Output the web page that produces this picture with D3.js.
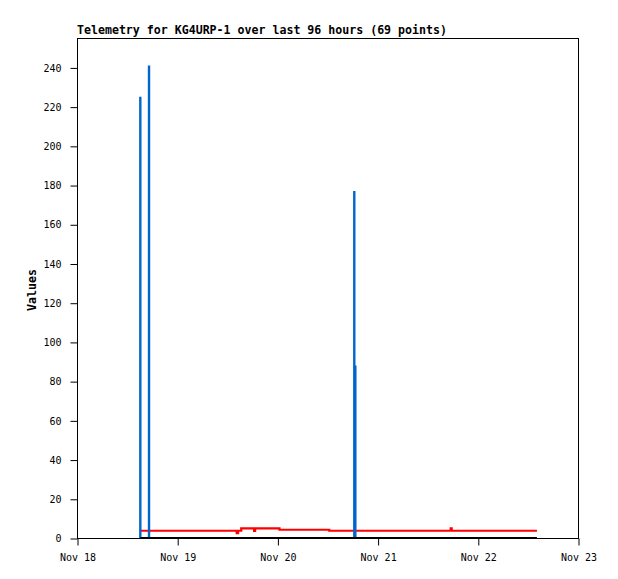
<!DOCTYPE html>
<html>
<head>
<meta charset="utf-8">
<script src="https://cdn.jsdelivr.net/npm/d3@7"></script>
<style>
  body { margin: 0; background: #fff; }
  text { font-family: "DejaVu Sans Mono", monospace; }
</style>
</head>
<body>
<div id="chart"></div>
<script>
// telemetry samples (UTC), one value per series per timestamp
const times = [
  '2023-11-18T15:10', '2023-11-18T15:25', '2023-11-18T16:50', '2023-11-18T17:15',
  '2023-11-18T17:30', '2023-11-19T06:00', '2023-11-19T14:05', '2023-11-19T14:15',
  '2023-11-19T14:35', '2023-11-19T15:05', '2023-11-19T15:20', '2023-11-19T18:15',
  '2023-11-19T18:25', '2023-11-19T18:40', '2023-11-20T00:15', '2023-11-20T00:30',
  '2023-11-20T12:10', '2023-11-20T12:25', '2023-11-20T18:00', '2023-11-20T18:25',
  '2023-11-20T18:40', '2023-11-20T18:55', '2023-11-21T17:20', '2023-11-21T17:30',
  '2023-11-21T17:45', '2023-11-22T14:10'
];
const blueValues = [225, 0, 0, 241, 0, 0, 0, 0, 0, 0, 0, 0, 0, 0, 0, 0, 0, 0, 0, 177, 88, 0, 0, 0, 0, 0];
const redValues = [3.7, 3.7, 3.7, 3.7, 3.7, 3.7, 3.7, 2.5, 3.7, 3.7, 4.9, 4.9, 3.6, 4.9, 4.9, 4.2,
                   4.2, 3.7, 3.7, 3.7, 3.7, 3.7, 3.7, 4.9, 3.7, 3.7];
const blackValues = [0, 0, 0, 0, 0, 0, 0, 0, 0, 0, 0, 0, 0, 0, 0, 0, 0, 0, 0, 0, 0, 0, 0, 0, 0, 0];
const yTicks = [0, 20, 40, 60, 80, 100, 120, 140, 160, 180, 200, 220, 240];
const xTickDates = ['2023-11-18', '2023-11-19', '2023-11-20', '2023-11-21', '2023-11-22', '2023-11-23'];
const title = 'Telemetry for KG4URP-1 over last 96 hours (69 points)';

const width = 618, height = 579;
const margin = { left: 77, right: 40, top: 38, bottom: 41 };

const parse = d3.utcParse('%Y-%m-%dT%H:%M');
const parseDay = d3.utcParse('%Y-%m-%d');
const dates = times.map(parse);
const tickDates = xTickDates.map(parseDay);

const x = d3.scaleUtc()
  .domain([tickDates[0], tickDates[tickDates.length - 1]])
  .range([margin.left, width - margin.right]);
const y = d3.scaleLinear()
  .domain([0, 255])
  .range([height - margin.bottom, margin.top]);

const svg = d3.select('#chart').append('svg')
  .attr('width', width)
  .attr('height', height);

// frame
svg.append('rect')
  .attr('x', margin.left + 0.5)
  .attr('y', margin.top + 0.5)
  .attr('width', width - margin.left - margin.right)
  .attr('height', height - margin.top - margin.bottom)
  .attr('fill', 'none')
  .attr('stroke', '#000')
  .attr('stroke-width', 1);

const fmt = d3.utcFormat('%b %d');
const xAxis = svg.append('g')
  .attr('transform', 'translate(0.5,' + (height - margin.bottom + 0.5) + ')')
  .call(d3.axisBottom(x).tickValues(tickDates).tickSize(7).tickPadding(8)
    .tickFormat(d => fmt(d)));
xAxis.select('.domain').remove();
xAxis.selectAll('text').style('font-size', '10px').attr('fill', '#000');
xAxis.selectAll('line').attr('stroke', '#000');

const yAxis = svg.append('g')
  .attr('transform', 'translate(' + (margin.left + 0.5) + ',0.5)')
  .call(d3.axisLeft(y).tickValues(yTicks).tickSize(7).tickPadding(9));
yAxis.select('.domain').remove();
yAxis.selectAll('text').style('font-size', '10px').attr('fill', '#000');
yAxis.selectAll('line').attr('stroke', '#000');

// title
svg.append('text')
  .attr('x', margin.left)
  .attr('y', 34)
  .style('font-size', '11.6px')
  .style('font-weight', 'bold')
  .text(title);

// y label
svg.append('text')
  .attr('transform', 'translate(36,290) rotate(-90)')
  .attr('text-anchor', 'middle')
  .style('font-size', '11.6px')
  .style('font-weight', 'bold')
  .text('Values');

function stepSeries(values, color) {
  const line = d3.line()
    .x((d, i) => x(dates[i]))
    .y(d => y(d))
    .curve(d3.curveStepAfter);
  svg.append('path')
    .datum(values)
    .attr('d', line)
    .attr('fill', 'none')
    .attr('stroke', color)
    .attr('stroke-width', 2.2);
}

// impulses: a vertical bar from 0 to each value
function impulses(values, color) {
  svg.append('g').selectAll('line')
    .data(values.map((v, i) => ({ t: dates[i], v })).filter(d => d.v > 0))
    .join('line')
    .attr('x1', d => x(d.t))
    .attr('x2', d => x(d.t))
    .attr('y1', y(0))
    .attr('y2', d => y(d.v))
    .attr('stroke', color)
    .attr('stroke-width', 2.4);
}

stepSeries(redValues, '#ff0000');
impulses(blueValues, '#0066cc');
stepSeries(blackValues, '#000000');
</script>
</body>
</html>
